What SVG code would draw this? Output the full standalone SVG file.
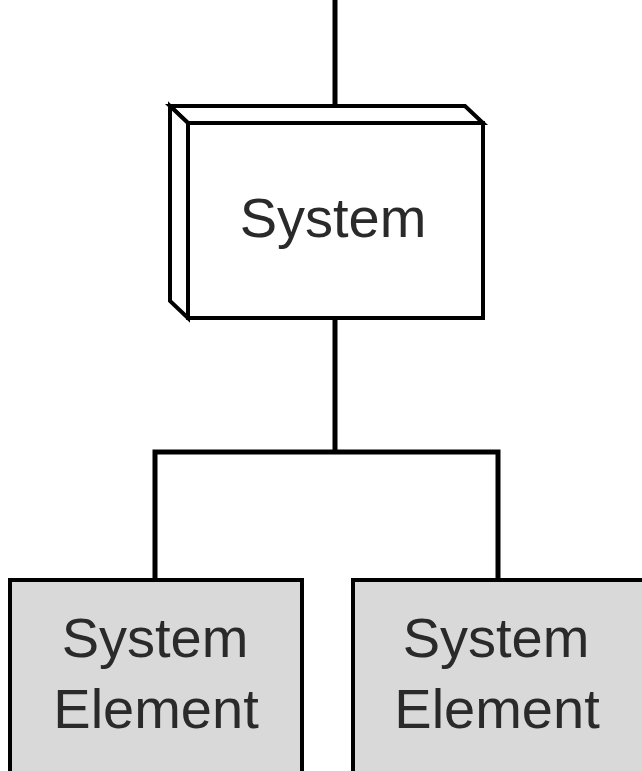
<svg xmlns="http://www.w3.org/2000/svg" width="642" height="771" viewBox="0 0 642 771">
<style>
.edge{fill:none;stroke:#000;stroke-width:5;stroke-linejoin:miter}
.box{stroke:#000;stroke-width:4}
.lbl{font-family:"Liberation Sans",Arial,sans-serif;font-size:56px;fill:#2a2a2a;text-anchor:middle}
</style>
<rect width="642" height="771" fill="#fff"/>
<g id="connectors">
<line class="edge" x1="335" y1="0" x2="335" y2="123"/>
<line class="edge" x1="335" y1="318" x2="335" y2="452"/>
<polyline class="edge" points="155,580 155,452 498,452 498,580"/>
</g>
<g id="system">
<polygon class="box" fill="#fff" points="170,106 465,106 483,123 188,123"/>
<polygon class="box" fill="#fff" points="170,106 188,123 188,318 170,301"/>
<rect class="box" fill="#fff" x="188" y="123" width="295" height="195"/>
<text class="lbl" x="333" y="237">System</text>
</g>
<g id="element1">
<rect class="box" fill="#d9d9d9" x="10" y="580" width="292" height="200"/>
<text class="lbl" x="155" y="657">System</text>
<text class="lbl" x="156" y="728">Element</text>
</g>
<g id="element2">
<rect class="box" fill="#d9d9d9" x="353" y="580" width="300" height="200"/>
<text class="lbl" x="496" y="657">System</text>
<text class="lbl" x="497" y="728">Element</text>
</g>
</svg>
